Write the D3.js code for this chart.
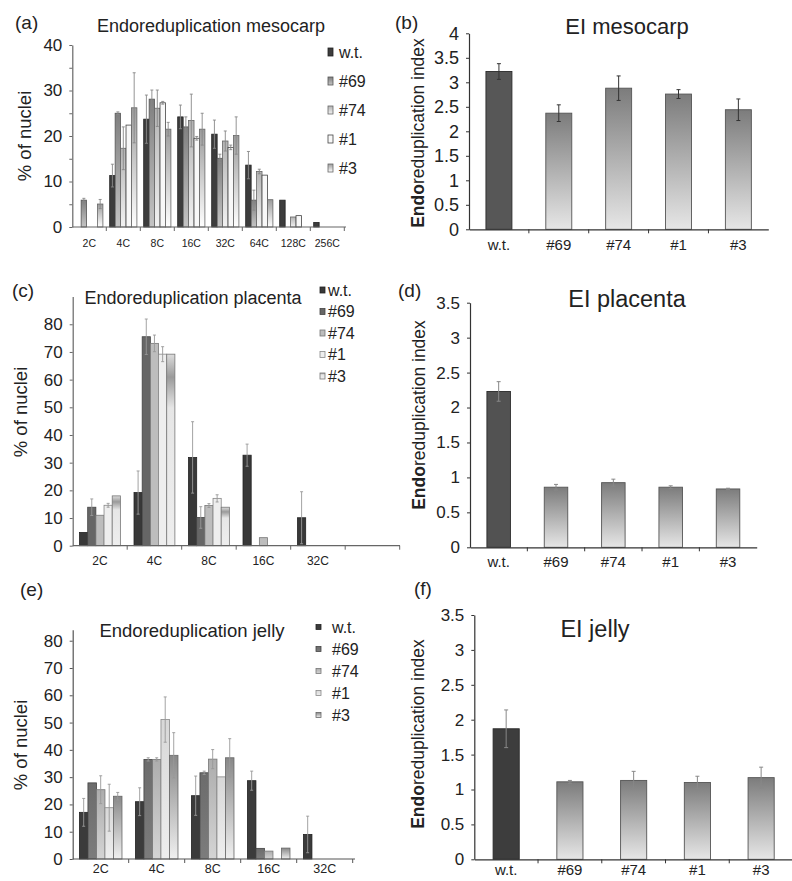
<!DOCTYPE html>
<html><head><meta charset="utf-8">
<script src="https://cdn.jsdelivr.net/npm/d3@7"></script>
<style>
body{margin:0;background:#fff}
svg{display:block}
text{font-family:"Liberation Sans",Arial,sans-serif;fill:#222}
</style>
</head><body>
<svg id="fig" width="792" height="881"></svg>
<script>
// ---------------- DATA ----------------
const seriesNames = ["w.t.", "#69", "#74", "#1", "#3"];

// (a) Endoreduplication mesocarp
const catsMeso = ["2C", "4C", "8C", "16C", "32C", "64C", "128C", "256C"];
const mesoWT  = [0, 11.3, 23.7, 24.2, 20.4, 13.6, 5.9, 1.0];
const meso69  = [5.9, 25.0, 28.1, 22.0, 15.1, 5.9, 0, 0];
const meso74  = [0, 17.3, 26.1, 23.4, 18.9, 12.2, 2.2, 0];
const meso1   = [0, 22.4, 27.3, 19.5, 17.5, 11.4, 2.5, 0];
const meso3   = [5.05, 26.2, 21.5, 21.5, 20.1, 6.0, 0, 0];
const mesoErrWT = [0, 2.5, 5.3, 2.6, 3.1, 3.0, 0, 0];
const mesoErr69 = [0.4, 0.3, 2.0, 2.2, 0.9, 2.2, 0, 0];
const mesoErr74 = [0, 4.7, 4.0, 5.8, 2.2, 0.5, 0, 0];
const mesoErr1  = [0, 0, 0.3, 0.4, 0.5, 0, 0, 0];
const mesoErr3  = [1.0, 7.7, 1.5, 3.5, 4.1, 0, 0, 0];

// (c) Endoreduplication placenta
const catsPlac = ["2C", "4C", "8C", "16C", "32C"];
const placWT = [4.8, 19.2, 31.9, 32.7, 10.1];
const plac69 = [13.9, 75.5, 10.2, 0, 0];
const plac74 = [11.0, 73.1, 14.5, 2.9, 0];
const plac1  = [14.6, 69.2, 17.1, 0, 0];
const plac3  = [18.0, 69.2, 13.9, 0, 0];
const placErrWT = [0, 7.8, 12.9, 4.0, 9.4];
const placErr69 = [3.0, 6.4, 3.9, 0, 0];
const placErr74 = [0, 3.0, 0.7, 0, 0];
const placErr1  = [0.7, 2.7, 1.3, 0, 0];
const placErr3  = [0, 0, 0, 0, 0];

// (e) Endoreduplication jelly
const catsJelly = ["2C", "4C", "8C", "16C", "32C"];
const jellyWT = [17.1, 21.0, 23.2, 28.7, 9.0];
const jelly69 = [27.9, 36.5, 31.6, 3.9, 0];
const jelly74 = [25.4, 36.5, 36.6, 2.9, 0];
const jelly1  = [18.8, 51.1, 30.1, 0, 0];
const jelly3  = [23.0, 38.0, 37.1, 4.0, 0];
const jellyErrWT = [5.1, 5.1, 7.2, 3.5, 6.7];
const jellyErr69 = [0, 0.6, 0.6, 0, 0];
const jellyErr74 = [5.1, 0.6, 3.5, 0, 0];
const jellyErr1  = [8.6, 8.3, 0, 0, 0];
const jellyErr3  = [1.4, 8.3, 7.0, 0, 0];

// (b)(d)(f) Endoreduplication index
const eiLabels = ["w.t.", "#69", "#74", "#1", "#3"];
const eiMeso = [3.22, 2.37, 2.88, 2.76, 2.44];
const eiMesoErr = [0.16, 0.17, 0.25, 0.09, 0.22];
const eiPlac = [2.23, 0.86, 0.925, 0.86, 0.835];
const eiPlacErr = [0.14, 0.04, 0.05, 0.02, 0.01];
const eiJelly = [1.87, 1.11, 1.13, 1.10, 1.17];
const eiJellyErr = [0.27, 0.02, 0.13, 0.09, 0.15];

// ---------------- DRAWING ----------------
const svg = d3.select("#fig");
const defs = svg.append("defs");
function grad(id, stops) {
  const g = defs.append("linearGradient").attr("id", id)
    .attr("x1", 0).attr("y1", 0).attr("x2", 0).attr("y2", 1);
  stops.forEach(([o, c]) => g.append("stop").attr("offset", o).attr("stop-color", c));
  return `url(#${id})`;
}

function styleAxis(sel, color, fs) {
  sel.attr("font-family", null).attr("font-size", null);
  sel.select(".domain").attr("stroke", color).attr("stroke-width", 1.2);
  sel.selectAll(".tick line").attr("stroke", color);
  sel.selectAll(".tick text").attr("fill", "#222").style("font-size", fs + "px");
}

function grouped(o) {
  const g = svg.append("g");
  const x = d3.scaleBand().domain(d3.range(o.nBands)).range(o.xr);
  const bw = x.bandwidth();
  const inner = d3.scaleBand().domain(d3.range(o.series.length))
    .range([bw * o.pad, bw * (1 - o.pad)]);
  const y = d3.scaleLinear().domain([0, o.yMax]).range(o.yr);

  // bars
  o.series.forEach((s, si) => {
    const data = s.vals.map((v, i) => ({ v, i, e: s.errs[i] })).filter(d => d.v > 0);
    g.append("g").selectAll("rect").data(data).join("rect")
      .attr("x", d => x(d.i) + inner(si))
      .attr("width", inner.bandwidth())
      .attr("y", d => y(d.v))
      .attr("height", d => y(0) - y(d.v))
      .attr("fill", s.fill).attr("stroke", s.stroke).attr("stroke-width", 0.8);
    const eg = g.append("g").attr("stroke", o.errColor).attr("stroke-width", 0.9);
    data.filter(d => d.e > 0).forEach(d => {
      const cx = x(d.i) + inner(si) + inner.bandwidth() / 2;
      const yt = y(d.v + d.e), yb = y(Math.max(0, d.v - d.e));
      eg.append("line").attr("x1", cx).attr("x2", cx).attr("y1", yt).attr("y2", yb);
      eg.append("line").attr("x1", cx - 1.5).attr("x2", cx + 1.5).attr("y1", yt).attr("y2", yt);
      eg.append("line").attr("x1", cx - 1.5).attr("x2", cx + 1.5).attr("y1", yb).attr("y2", yb);
    });
  });

  // y axis
  const ya = g.append("g").attr("transform", `translate(${o.xr[0]},0)`)
    .call(d3.axisLeft(y).tickValues(o.yTicks).tickSize(3).tickSizeOuter(0).tickPadding(7)
      .tickFormat(d => (d % o.yLabelStep === 0 ? d : "")));
  styleAxis(ya, o.axisColor, o.yFs);

  // x axis
  const xa = g.append("g").attr("transform", `translate(0,${y(0)})`)
    .call(d3.axisBottom(x).tickSize(0).tickSizeOuter(0).tickPadding(o.xPad)
      .tickFormat(i => o.cats[i] || ""));
  styleAxis(xa, o.axisColor, o.xFs);
  xa.select(".domain").attr("d", `M${o.xr[0]},0H${o.xEnd}`);
  d3.range(1, o.nBands + 1).forEach(i => {
    const bx = i < o.nBands ? x(i) : o.xr[1];
    g.append("line").attr("x1", bx).attr("x2", bx).attr("y1", y(0)).attr("y2", y(0) + 4)
      .attr("stroke", o.axisColor);
  });

  // titles
  g.append("text").attr("x", o.title[0]).attr("y", o.title[1]).attr("text-anchor", "middle")
    .style("font-size", o.titleFs + "px").attr("fill", "#333").text(o.titleText);
  g.append("text").attr("transform", `translate(${o.yTitle[0]},${o.yTitle[1]}) rotate(-90)`)
    .attr("text-anchor", "middle").style("font-size", o.yTitleFs + "px").attr("fill", "#333")
    .text("% of nuclei");
  g.append("text").attr("x", o.letter[0]).attr("y", o.letter[1]).style("font-size", "19px")
    .attr("fill", "#111").text(o.letterText);

  // legend
  o.series.forEach((s, si) => {
    const ly = o.legend.y0 + si * o.legend.step;
    g.append("rect").attr("x", o.legend.x).attr("y", ly - o.legend.h / 2)
      .attr("width", o.legend.w).attr("height", o.legend.h)
      .attr("fill", s.fill).attr("stroke", s.stroke).attr("stroke-width", 0.8);
    g.append("text").attr("x", o.legend.x + o.legend.w + o.legend.gap).attr("y", ly)
      .attr("dy", "0.36em").style("font-size", o.legend.fs + "px").attr("fill", "#333")
      .text(seriesNames[si]);
  });
}

function eiChart(o) {
  const g = svg.append("g");
  const x = d3.scaleBand().domain(eiLabels).range(o.xr).paddingInner(o.padIn).paddingOuter(o.padIn / 2);
  const y = d3.scaleLinear().domain([0, o.yMax]).range(o.yr);
  const data = o.vals.map((v, i) => ({ k: eiLabels[i], v, e: o.errs[i] }));
  g.append("g").selectAll("rect").data(data).join("rect")
    .attr("x", d => x(d.k)).attr("width", x.bandwidth())
    .attr("y", d => y(d.v)).attr("height", d => y(0) - y(d.v))
    .attr("fill", (d, i) => i === 0 ? o.wtFill : o.fill)
    .attr("stroke", (d, i) => i === 0 ? "#2a2a2a" : "#555").attr("stroke-width", 0.9);
  const eg = g.append("g").attr("stroke", o.errColor).attr("stroke-width", 1);
  data.forEach(d => {
    const cx = x(d.k) + x.bandwidth() / 2, yt = y(d.v + d.e), yb = y(d.v - d.e);
    eg.append("line").attr("x1", cx).attr("x2", cx).attr("y1", yt).attr("y2", yb);
    eg.append("line").attr("x1", cx - 2).attr("x2", cx + 2).attr("y1", yt).attr("y2", yt);
    eg.append("line").attr("x1", cx - 2).attr("x2", cx + 2).attr("y1", yb).attr("y2", yb);
  });
  const ya = g.append("g").attr("transform", `translate(${o.xr[0]},0)`)
    .call(d3.axisLeft(y).tickValues(d3.range(0, o.yMax + 0.01, 0.5)).tickSize(3).tickSizeOuter(0)
      .tickPadding(7).tickFormat(d => String(d)));
  styleAxis(ya, "#333", o.yFs);
  const xa = g.append("g").attr("transform", `translate(0,${y(0)})`)
    .call(d3.axisBottom(x).tickSize(0).tickSizeOuter(0).tickPadding(o.xPad));
  styleAxis(xa, "#333", o.xFs);
  d3.range(1, eiLabels.length).forEach(i => {
    const bx = x(eiLabels[i]) - x.step() * o.padIn / 2;
    g.append("line").attr("x1", bx).attr("x2", bx).attr("y1", y(0)).attr("y2", y(0) + 4).attr("stroke", "#333");
  });
  g.append("text").attr("x", o.title[0]).attr("y", o.title[1]).attr("text-anchor", "middle")
    .style("font-size", o.titleFs + "px").attr("fill", "#222").text(o.titleText);
  const yt = g.append("text").attr("transform", `translate(${o.yTitle[0]},${o.yTitle[1]}) rotate(-90)`)
    .attr("text-anchor", "middle").style("font-size", o.yTitleFs + "px").attr("fill", "#222");
  yt.append("tspan").attr("font-weight", "bold").text("Endo");
  yt.append("tspan").text("reduplication index");
  g.append("text").attr("x", o.letter[0]).attr("y", o.letter[1]).style("font-size", "19px")
    .attr("fill", "#111").text(o.letterText);
}

// ---- Panel (a)
grouped({
  cats: catsMeso, nBands: 8, xr: [72.3, 344.3], xEnd: 346, pad: 0.1,
  yMax: 40, yr: [227, 45], yTicks: d3.range(0, 41, 5), yLabelStep: 10,
  axisColor: "#666", errColor: "#888", yFs: 17, xFs: 10.5, xPad: 13,
  series: [
    { vals: mesoWT, errs: mesoErrWT, fill: "#3d3d3d", stroke: "#222" },
    { vals: meso69, errs: mesoErr69, fill: grad("a69", [[0, "#7f7f7f"], [1, "#c4c4c4"]]), stroke: "#555" },
    { vals: meso74, errs: mesoErr74, fill: grad("a74", [[0, "#b3b3b3"], [1, "#f2f2f2"]]), stroke: "#666" },
    { vals: meso1, errs: mesoErr1, fill: "#f8f8f8", stroke: "#444" },
    { vals: meso3, errs: mesoErr3, fill: grad("a3", [[0, "#9c9c9c"], [1, "#ffffff"]]), stroke: "#666" }
  ],
  title: [211, 32], titleText: "Endoreduplication mesocarp", titleFs: 18,
  yTitle: [31, 136], yTitleFs: 18.5, letter: [15, 29], letterText: "(a)",
  legend: { x: 328, y0: 52, step: 29, w: 5, h: 8, gap: 6, fs: 16 }
});

// ---- Panel (c)
grouped({
  cats: catsPlac, nBands: 6, xr: [72.7, 399.7], xEnd: 400, pad: 0.125,
  yMax: 90, yr: [545.7, 296.6], yTicks: d3.range(0, 81, 10), yLabelStep: 10,
  axisColor: "#666", errColor: "#999", yFs: 17, xFs: 12, xPad: 11,
  series: [
    { vals: placWT, errs: placErrWT, fill: "#383838", stroke: "#222" },
    { vals: plac69, errs: placErr69, fill: "#666666", stroke: "#444" },
    { vals: plac74, errs: placErr74, fill: "#bdbdbd", stroke: "#777" },
    { vals: plac1, errs: placErr1, fill: "#eeeeee", stroke: "#888" },
    { vals: plac3, errs: placErr3, fill: grad("c3", [[0, "#dcdcdc"], [0.12, "#9a9a9a"], [0.28, "#e6e6e6"], [1, "#eeeeee"]]), stroke: "#777" }
  ],
  title: [193, 304], titleText: "Endoreduplication placenta", titleFs: 18,
  yTitle: [27, 412], yTitleFs: 18.5, letter: [12, 297], letterText: "(c)",
  legend: { x: 320, y0: 290, step: 21.5, w: 5, h: 6, gap: 3, fs: 16 }
});

// ---- Panel (e)
grouped({
  cats: catsJelly, nBands: 5, xr: [72.7, 352.7], xEnd: 355, pad: 0.12,
  yMax: 84, yr: [859, 629.8], yTicks: d3.range(0, 81, 10), yLabelStep: 10,
  axisColor: "#555", errColor: "#999", yFs: 17, xFs: 12.5, xPad: 5,
  series: [
    { vals: jellyWT, errs: jellyErrWT, fill: "#3b3b3b", stroke: "#222" },
    { vals: jelly69, errs: jellyErr69, fill: grad("e69", [[0, "#6c6c6c"], [1, "#7c7c7c"]]), stroke: "#444" },
    { vals: jelly74, errs: jellyErr74, fill: grad("e74", [[0, "#adadad"], [1, "#d4d4d4"]]), stroke: "#777" },
    { vals: jelly1, errs: jellyErr1, fill: grad("e1", [[0, "#d8d8d8"], [1, "#eeeeee"]]), stroke: "#888" },
    { vals: jelly3, errs: jellyErr3, fill: grad("e3", [[0, "#888888"], [1, "#f0f0f0"]]), stroke: "#666" }
  ],
  title: [192, 637], titleText: "Endoreduplication jelly", titleFs: 18.5,
  yTitle: [27, 745], yTitleFs: 18.5, letter: [20, 596], letterText: "(e)",
  legend: { x: 316, y0: 627, step: 22, w: 5, h: 5, gap: 11, fs: 16 }
});

// ---- Panel (b)
const eiGrad = grad("ei", [[0, "#7c7c7c"], [1, "#e6e6e6"]]);
eiChart({
  vals: eiMeso, errs: eiMesoErr, xr: [469, 768.3], padIn: 0.566,
  yMax: 4, yr: [229.3, 33.3], wtFill: "#575757", fill: eiGrad, errColor: "#333",
  yFs: 18, xFs: 15, xPad: 10,
  title: [627, 34], titleText: "EI mesocarp", titleFs: 22,
  yTitle: [424, 133], yTitleFs: 17.5, letter: [395, 29], letterText: "(b)"
});

// ---- Panel (d)
eiChart({
  vals: eiPlac, errs: eiPlacErr, xr: [470, 756.7], padIn: 0.59,
  yMax: 3.5, yr: [547.3, 302.7], wtFill: "#525252", fill: eiGrad, errColor: "#888",
  yFs: 17, xFs: 15, xPad: 9,
  title: [627, 307], titleText: "EI placenta", titleFs: 23.5,
  yTitle: [425, 415], yTitleFs: 17.5, letter: [398, 297], letterText: "(d)"
});

// ---- Panel (f)
eiChart({
  vals: eiJelly, errs: eiJellyErr, xr: [474.3, 793], padIn: 0.59,
  yMax: 3.5, yr: [859.3, 615], wtFill: "#3d3d3d", fill: eiGrad, errColor: "#888",
  yFs: 17, xFs: 15, xPad: 5,
  title: [595, 637], titleText: "EI jelly", titleFs: 23.5,
  yTitle: [424, 734], yTitleFs: 17.5, letter: [414, 595], letterText: "(f)"
});
</script>
</body></html>
